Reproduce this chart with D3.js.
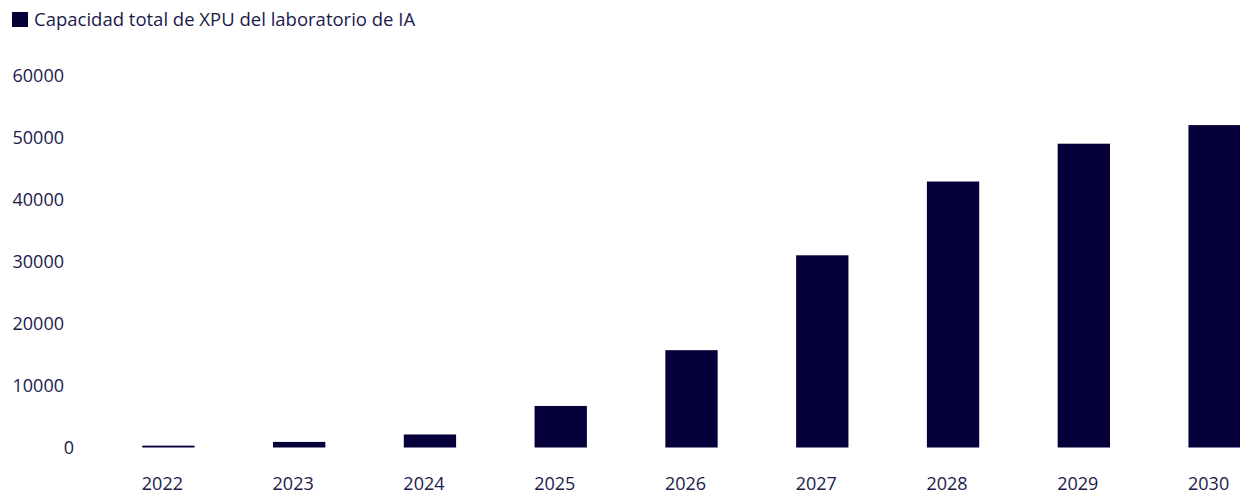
<!DOCTYPE html>
<html>
  <head>
    <script src="https://d3js.org/d3.v7.min.js"></script>
    <style>
      body { margin: 0; background: #fff; }
      text { font-family: "Open Sans", sans-serif; fill: #1b1a4b; }
    </style>
  </head>
  <body>
    <div id="chart"></div>
    <script>
      const years = ["2022", "2023", "2024", "2025", "2026", "2027", "2028", "2029", "2030"];
      const capacity = [300, 900, 2100, 6700, 15700, 31000, 42900, 49000, 52000];
      const yTicks = [0, 10000, 20000, 30000, 40000, 50000, 60000];
      const seriesName = "Capacidad total de XPU del laboratorio de IA";

      const width = 1240;
      const height = 496;
      const barColor = "#05003a";

      const svg = d3
        .select("#chart")
        .append("svg")
        .attr("width", width)
        .attr("height", height);

      const x = d3
        .scaleBand()
        .domain(years)
        .range([103, 1280])
        .paddingInner(0.6)
        .paddingOuter(0.3);

      const y = d3.scaleLinear().domain([0, 60000]).range([447.5, 75.5]);

      // y tick labels
      svg
        .append("g")
        .selectAll("text")
        .data(yTicks)
        .enter()
        .append("text")
        .attr("x", (d) => (d === 0 ? 74 : 64))
        .attr("y", (d) => y(d))
        .attr("dy", "0.35em")
        .attr("text-anchor", "end")
        .style("font-size", "18px")
        .text((d) => d);

      // bars
      svg
        .append("g")
        .selectAll("rect")
        .data(years)
        .enter()
        .append("rect")
        .attr("x", (d) => x(d))
        .attr("width", x.bandwidth())
        .attr("y", (d, i) => y(capacity[i]))
        .attr("height", (d, i) => y(0) - y(capacity[i]))
        .attr("fill", barColor);

      // x labels
      svg
        .append("g")
        .selectAll("text")
        .data(years)
        .enter()
        .append("text")
        .attr("x", (d) => x(d) + x.bandwidth() / 2 - 6)
        .attr("y", 484)
        .attr("dy", "0.35em")
        .attr("text-anchor", "middle")
        .style("font-size", "18px")
        .text((d) => d);

      // legend
      const legend = svg.append("g");
      legend
        .append("rect")
        .attr("x", 12)
        .attr("y", 12)
        .attr("width", 16)
        .attr("height", 15)
        .attr("fill", barColor);
      legend
        .append("text")
        .attr("x", 34)
        .attr("y", 26)
        .style("font-size", "18.5px")
        .text(seriesName);
    </script>
  </body>
</html>
